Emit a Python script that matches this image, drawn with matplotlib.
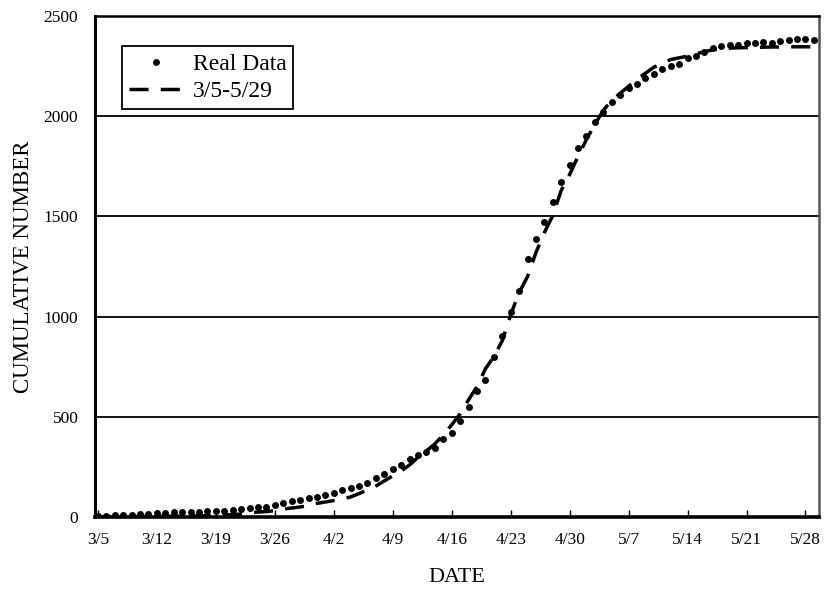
import matplotlib
matplotlib.use("Agg")
import matplotlib.pyplot as plt
import numpy as np

# cumulative counts, one value per day starting 3/5
real_data = [
    5, 5, 8, 10, 12, 14, 16, 20, 22, 24,
    25, 26, 26, 28, 28, 30, 35, 38, 45, 48,
    52, 58, 70, 78, 85, 93, 100, 110, 120, 133,
    145, 157, 172, 193, 215, 238, 260, 290, 310, 325,
    343, 388, 418, 480, 547, 630, 682, 797, 902, 1022,
    1127, 1290, 1390, 1473, 1572, 1673, 1755, 1843, 1902, 1972,
    2022, 2070, 2107, 2140, 2160, 2190, 2213, 2235, 2252, 2263,
    2290, 2302, 2323, 2340, 2352, 2357, 2357, 2368, 2368, 2373,
    2368, 2377, 2383, 2385, 2385, 2382,
]

# fitted curve over 3/5-5/29
fit_curve = [
    1, 1, 1, 2, 2, 2, 3, 3, 4, 4,
    5, 5, 6, 7, 8, 10, 12, 15, 20, 25,
    27, 32, 40, 45, 50, 56, 68, 75, 82, 90,
    100, 117, 135, 155, 180, 205, 230, 260, 298, 330,
    365, 410, 460, 515, 585, 650, 740, 800, 880, 1010,
    1120, 1200, 1320, 1420, 1505, 1630, 1710, 1800, 1885, 1960,
    2030, 2080, 2115, 2150, 2185, 2215, 2245, 2265, 2283, 2292,
    2300, 2312, 2322, 2332, 2337, 2340, 2342, 2343, 2344, 2345,
    2346, 2346, 2347, 2347, 2347, 2347,
]

tick_labels = ["3/5", "3/12", "3/19", "3/26", "4/2", "4/9", "4/16",
               "4/23", "4/30", "5/7", "5/14", "5/21", "5/28"]

days = np.arange(len(real_data))

plt.rcParams["font.family"] = ["Liberation Serif", "DejaVu Serif"]

fig = plt.figure(figsize=(8.24, 5.97), dpi=100)
ax = fig.add_axes([0.1153, 0.134, 0.8786, 0.839])

ax.plot(days, fit_curve, color="black", lw=2.5, dashes=(5.5, 3.5),
        label="3/5-5/29", zorder=3)
ax.plot(days, real_data, "o", color="black", ms=5, mew=0,
        label="Real Data", zorder=4)

ax.set_xlim(-0.35, 85.6)
ax.set_ylim(0, 2500)
ax.set_yticks(np.arange(0, 2501, 500))
ax.set_xticks(np.arange(0, 85, 7))
ax.set_xticklabels(tick_labels)

for y in range(500, 2500, 500):
    ax.axhline(y, color="black", lw=1.3, zorder=1)

ax.tick_params(axis="x", direction="in", length=5, width=1, pad=11,
               labelsize=12.5)
ax.tick_params(axis="y", length=0, pad=12, labelsize=12.5)

ax.spines["left"].set_linewidth(2.2)
ax.spines["bottom"].set_linewidth(2.6)
ax.spines["top"].set_linewidth(1.8)
ax.spines["right"].set_linewidth(1.8)
ax.spines["right"].set_color("#555555")

ax.set_xlabel("DATE", fontsize=16, labelpad=14)
ax.set_ylabel("CUMULATIVE NUMBER", fontsize=16.5, labelpad=7)

handles, labels = ax.get_legend_handles_labels()
leg = ax.legend(handles[::-1], labels[::-1], loc="upper left",
                bbox_to_anchor=(0.037, 0.94), fontsize=17, fancybox=False,
                framealpha=1, edgecolor="black", handlelength=2.3,
                handletextpad=0.4, borderpad=0.3, labelspacing=0.25,
                borderaxespad=0)
leg.get_frame().set_linewidth(1.3)

fig.savefig("out.png", dpi=100)
